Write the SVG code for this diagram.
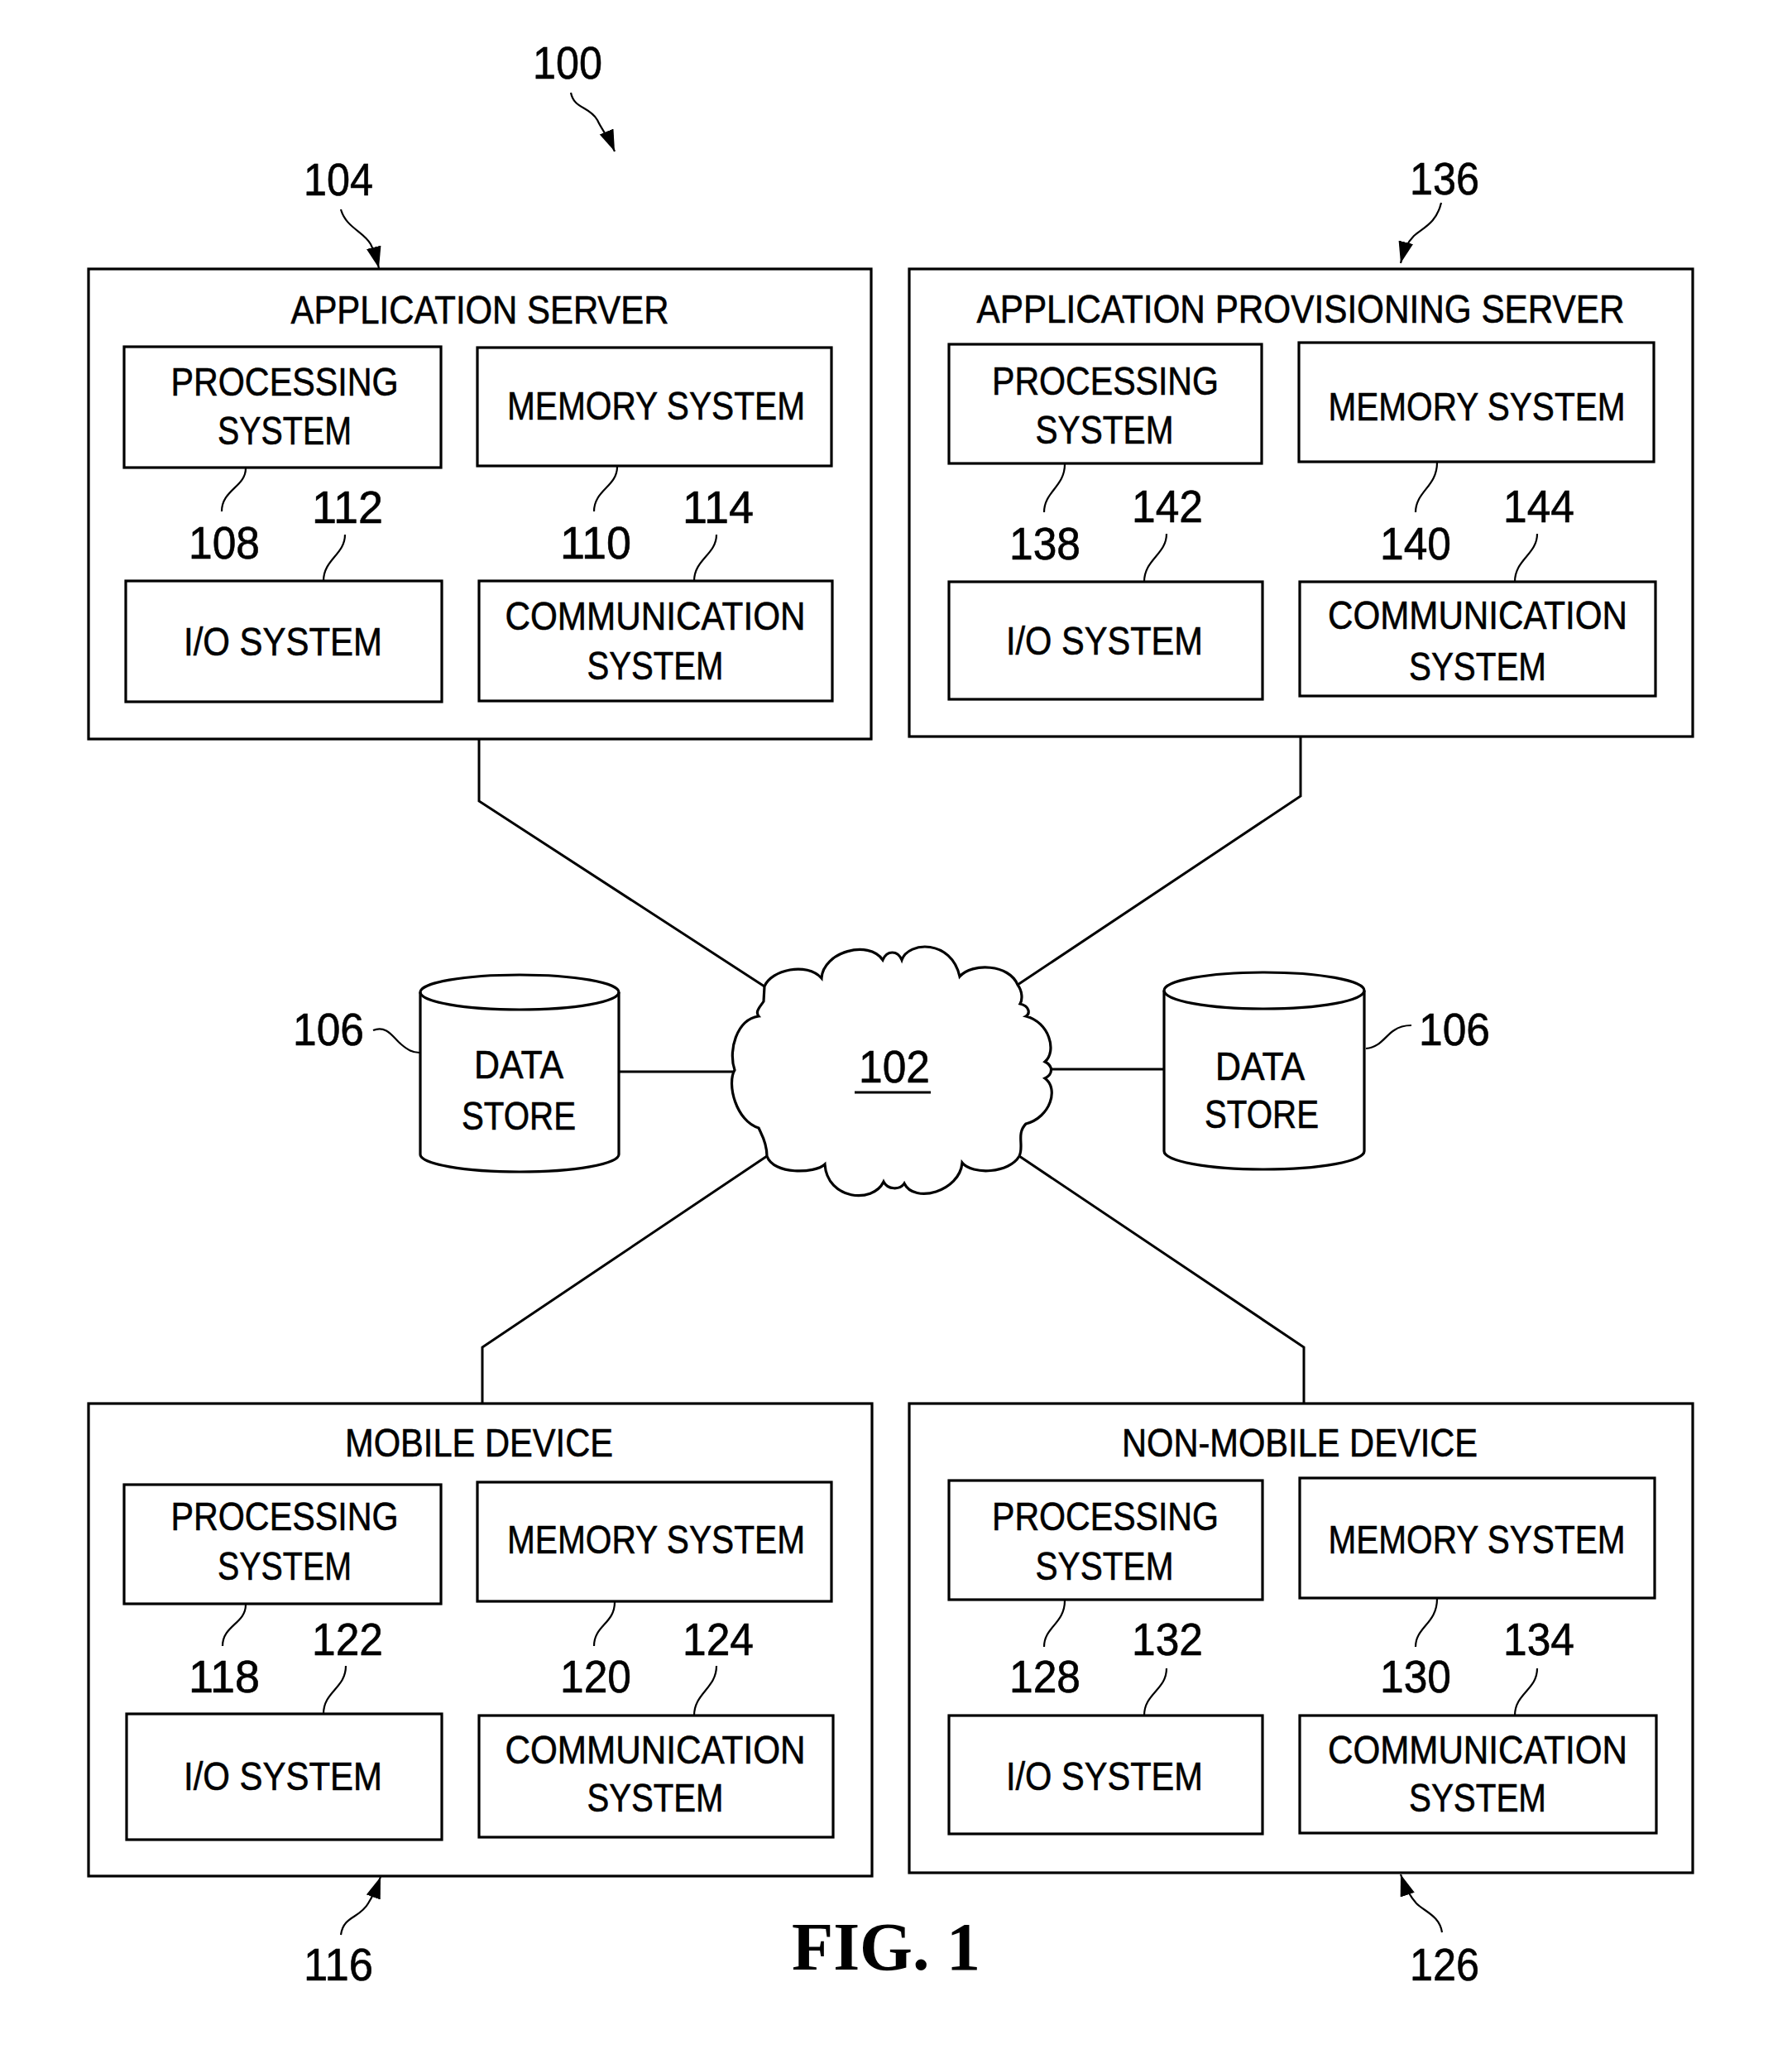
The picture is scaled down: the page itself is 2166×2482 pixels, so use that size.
<svg xmlns="http://www.w3.org/2000/svg" width="2166" height="2482" viewBox="0 0 2166 2482">
<defs>
<style>
.box{fill:none;stroke:#000;stroke-width:3.2}
.ln{fill:none;stroke:#000;stroke-width:3}
.ld{fill:none;stroke:#000;stroke-width:2.2}
.t{font-family:"Liberation Sans",Arial,sans-serif;font-size:48px;fill:#000;stroke:#000;stroke-width:0.6;text-anchor:middle}
.n{font-family:"Liberation Sans",Arial,sans-serif;font-size:56px;fill:#000;stroke:#000;stroke-width:0.6;text-anchor:middle}
.fig{font-family:"Liberation Serif","Times New Roman",serif;font-weight:bold;font-size:83px;fill:#000}
</style>
<marker id="ah" markerUnits="userSpaceOnUse" markerWidth="28" markerHeight="20" refX="26" refY="9" orient="auto" viewBox="0 0 28 20">
<path d="M0,0 L26,9 L0,18 Z" fill="#000"/>
</marker>
</defs>
<rect width="2166" height="2482" fill="#fff"/>

<g id="connectors">
<path class="ln" d="M579,893 L579,968 L924,1192"/>
<path class="ln" d="M1572,890 L1572,962 L1230,1190"/>
<path class="ln" d="M748,1295 L887,1295"/>
<path class="ln" d="M1270,1292 L1407,1292"/>
<path class="ln" d="M927,1397 L583,1628 L583,1696"/>
<path class="ln" d="M1232,1397 L1576,1628 L1576,1696"/>
</g>

<g id="ref-100">
<text class="n" x="686" y="95" textLength="84" lengthAdjust="spacingAndGlyphs">100</text>
<path class="ld" d="M690,112 C694,132 712,128 722,145 C728,158 736,166 743,183" marker-end="url(#ah)"/>
</g>

<g id="node-104">
<text class="n" x="409" y="236" textLength="84" lengthAdjust="spacingAndGlyphs">104</text>
<path class="ld" d="M412,253 C418,275 440,280 448,295 C452,303 455,312 458,324" marker-end="url(#ah)"/>
<rect class="box" x="107" y="325" width="946" height="568"/>
<text class="t" x="580" y="391" textLength="457" lengthAdjust="spacingAndGlyphs">APPLICATION SERVER</text>
<rect class="box" x="150" y="419" width="383" height="146"/>
<text class="t" x="344" y="478" textLength="275" lengthAdjust="spacingAndGlyphs">PROCESSING</text>
<text class="t" x="344" y="537" textLength="162" lengthAdjust="spacingAndGlyphs">SYSTEM</text>
<rect class="box" x="577" y="420" width="428" height="143"/>
<text class="t" x="793" y="507" textLength="360" lengthAdjust="spacingAndGlyphs">MEMORY SYSTEM</text>
<rect class="box" x="152" y="702" width="382" height="146"/>
<text class="t" x="342" y="792" textLength="240" lengthAdjust="spacingAndGlyphs">I/O SYSTEM</text>
<rect class="box" x="579" y="702" width="427" height="145"/>
<text class="t" x="792" y="761" textLength="363" lengthAdjust="spacingAndGlyphs">COMMUNICATION</text>
<text class="t" x="792" y="821" textLength="165" lengthAdjust="spacingAndGlyphs">SYSTEM</text>
<text class="n" x="271" y="675" textLength="86" lengthAdjust="spacingAndGlyphs">108</text>
<text class="n" x="420" y="632" textLength="86" lengthAdjust="spacingAndGlyphs">112</text>
<text class="n" x="720" y="675" textLength="86" lengthAdjust="spacingAndGlyphs">110</text>
<text class="n" x="868" y="632" textLength="86" lengthAdjust="spacingAndGlyphs">114</text>
<path class="ld" d="M297,566 C297,588 268,592 268,618"/>
<path class="ld" d="M417,646 C417,670 391,676 391,702"/>
<path class="ld" d="M746,564 C746,588 718,592 718,618"/>
<path class="ld" d="M866,646 C866,670 839,676 839,702"/>
</g>

<g id="node-136">
<text class="n" x="1746" y="235" textLength="84" lengthAdjust="spacingAndGlyphs">136</text>
<path class="ld" d="M1742,245 C1736,270 1720,275 1709,285 C1701,293 1697,302 1693,318" marker-end="url(#ah)"/>
<rect class="box" x="1099" y="325" width="947" height="565"/>
<text class="t" x="1572" y="390" textLength="783" lengthAdjust="spacingAndGlyphs">APPLICATION PROVISIONING SERVER</text>
<rect class="box" x="1147" y="416" width="378" height="144"/>
<text class="t" x="1336" y="477" textLength="274" lengthAdjust="spacingAndGlyphs">PROCESSING</text>
<text class="t" x="1335" y="536" textLength="167" lengthAdjust="spacingAndGlyphs">SYSTEM</text>
<rect class="box" x="1570" y="414" width="429" height="144"/>
<text class="t" x="1785" y="508" textLength="359" lengthAdjust="spacingAndGlyphs">MEMORY SYSTEM</text>
<rect class="box" x="1147" y="703" width="379" height="142"/>
<text class="t" x="1335" y="791" textLength="238" lengthAdjust="spacingAndGlyphs">I/O SYSTEM</text>
<rect class="box" x="1571" y="703" width="430" height="138"/>
<text class="t" x="1786" y="760" textLength="362" lengthAdjust="spacingAndGlyphs">COMMUNICATION</text>
<text class="t" x="1786" y="822" textLength="166" lengthAdjust="spacingAndGlyphs">SYSTEM</text>
<text class="n" x="1263" y="676" textLength="86" lengthAdjust="spacingAndGlyphs">138</text>
<text class="n" x="1411" y="631" textLength="86" lengthAdjust="spacingAndGlyphs">142</text>
<text class="n" x="1711" y="676" textLength="86" lengthAdjust="spacingAndGlyphs">140</text>
<text class="n" x="1860" y="631" textLength="86" lengthAdjust="spacingAndGlyphs">144</text>
<path class="ld" d="M1287,561 C1287,588 1262,594 1262,619"/>
<path class="ld" d="M1410,645 C1410,670 1383,676 1383,703"/>
<path class="ld" d="M1737,559 C1737,588 1711,594 1711,619"/>
<path class="ld" d="M1858,645 C1858,670 1831,676 1831,703"/>
</g>

<g id="node-102">
<path class="box" d="M924,1192 C932,1172 975,1162 993,1182 C995,1150 1050,1135 1067,1160 C1072,1148 1085,1148 1090,1160 C1098,1137 1150,1135 1160,1180 C1175,1163 1220,1165 1230,1190 C1236,1198 1236,1208 1233,1213 C1245,1216 1245,1225 1240,1228 C1268,1235 1278,1270 1263,1283 C1273,1288 1273,1298 1263,1303 C1280,1315 1270,1350 1240,1358 C1228,1370 1238,1385 1232,1397 C1220,1418 1175,1420 1163,1405 C1160,1440 1105,1455 1093,1430 C1088,1438 1073,1438 1068,1428 C1055,1455 1000,1450 997,1407 C985,1418 935,1420 927,1397 C927,1380 920,1370 917,1363 C890,1355 878,1310 888,1293 C880,1270 890,1232 917,1228 C912,1222 920,1215 923,1210 Z"/>
<text class="n" x="1081" y="1308" font-size="60" textLength="86" lengthAdjust="spacingAndGlyphs">102</text>
<line class="ln" x1="1033" y1="1320" x2="1125" y2="1320"/>
</g>

<g id="node-106-left">
<path class="box" d="M508,1199 L508,1395 A120,21 0 0 0 748,1395 L748,1199"/>
<ellipse class="box" cx="628" cy="1199" rx="120" ry="21"/>
<text class="t" x="627" y="1303" font-size="52" textLength="108" lengthAdjust="spacingAndGlyphs">DATA</text>
<text class="t" x="627" y="1365" font-size="52" textLength="138" lengthAdjust="spacingAndGlyphs">STORE</text>
<text class="n" x="397" y="1263" textLength="86" lengthAdjust="spacingAndGlyphs">106</text>
<path class="ld" d="M451,1245 C468,1238 476,1255 485,1262 C492,1268 498,1272 507,1272"/>
</g>

<g id="node-106-right">
<path class="box" d="M1407,1197 L1407,1391 A121,22 0 0 0 1649,1391 L1649,1197"/>
<ellipse class="box" cx="1528" cy="1197" rx="121" ry="22"/>
<text class="t" x="1523" y="1305" font-size="52" textLength="108" lengthAdjust="spacingAndGlyphs">DATA</text>
<text class="t" x="1525" y="1363" font-size="52" textLength="138" lengthAdjust="spacingAndGlyphs">STORE</text>
<text class="n" x="1758" y="1263" textLength="86" lengthAdjust="spacingAndGlyphs">106</text>
<path class="ld" d="M1651,1267 C1668,1266 1675,1251 1685,1245 C1692,1240 1698,1239 1706,1239"/>
</g>

<g id="node-116">
<rect class="box" x="107" y="1696" width="947" height="571"/>
<text class="t" x="579" y="1760" textLength="324" lengthAdjust="spacingAndGlyphs">MOBILE DEVICE</text>
<rect class="box" x="150" y="1794" width="383" height="144"/>
<text class="t" x="344" y="1849" textLength="275" lengthAdjust="spacingAndGlyphs">PROCESSING</text>
<text class="t" x="344" y="1909" textLength="162" lengthAdjust="spacingAndGlyphs">SYSTEM</text>
<rect class="box" x="577" y="1791" width="428" height="144"/>
<text class="t" x="793" y="1877" textLength="360" lengthAdjust="spacingAndGlyphs">MEMORY SYSTEM</text>
<rect class="box" x="153" y="2071" width="381" height="152"/>
<text class="t" x="342" y="2163" textLength="240" lengthAdjust="spacingAndGlyphs">I/O SYSTEM</text>
<rect class="box" x="579" y="2073" width="428" height="147"/>
<text class="t" x="792" y="2131" textLength="363" lengthAdjust="spacingAndGlyphs">COMMUNICATION</text>
<text class="t" x="792" y="2189" textLength="165" lengthAdjust="spacingAndGlyphs">SYSTEM</text>
<text class="n" x="271" y="2045" textLength="86" lengthAdjust="spacingAndGlyphs">118</text>
<text class="n" x="420" y="2000" textLength="86" lengthAdjust="spacingAndGlyphs">122</text>
<text class="n" x="720" y="2045" textLength="86" lengthAdjust="spacingAndGlyphs">120</text>
<text class="n" x="868" y="2000" textLength="86" lengthAdjust="spacingAndGlyphs">124</text>
<path class="ld" d="M297,1939 C297,1962 269,1964 269,1989"/>
<path class="ld" d="M418,2013 C418,2040 391,2044 391,2071"/>
<path class="ld" d="M743,1936 C743,1962 718,1964 718,1989"/>
<path class="ld" d="M866,2013 C866,2040 839,2046 839,2073"/>
<text class="n" x="409" y="2393" textLength="84" lengthAdjust="spacingAndGlyphs">116</text>
<path class="ld" d="M412,2338 C415,2315 435,2318 445,2300 C450,2292 455,2282 460,2268" marker-end="url(#ah)"/>
</g>

<g id="node-126">
<rect class="box" x="1099" y="1696" width="947" height="567"/>
<text class="t" x="1571" y="1760" textLength="430" lengthAdjust="spacingAndGlyphs">NON-MOBILE DEVICE</text>
<rect class="box" x="1147" y="1789" width="379" height="144"/>
<text class="t" x="1336" y="1849" textLength="274" lengthAdjust="spacingAndGlyphs">PROCESSING</text>
<text class="t" x="1335" y="1909" textLength="167" lengthAdjust="spacingAndGlyphs">SYSTEM</text>
<rect class="box" x="1571" y="1786" width="429" height="145"/>
<text class="t" x="1785" y="1877" textLength="359" lengthAdjust="spacingAndGlyphs">MEMORY SYSTEM</text>
<rect class="box" x="1147" y="2073" width="379" height="143"/>
<text class="t" x="1335" y="2163" textLength="238" lengthAdjust="spacingAndGlyphs">I/O SYSTEM</text>
<rect class="box" x="1571" y="2073" width="431" height="142"/>
<text class="t" x="1786" y="2131" textLength="362" lengthAdjust="spacingAndGlyphs">COMMUNICATION</text>
<text class="t" x="1786" y="2189" textLength="166" lengthAdjust="spacingAndGlyphs">SYSTEM</text>
<text class="n" x="1263" y="2045" textLength="86" lengthAdjust="spacingAndGlyphs">128</text>
<text class="n" x="1411" y="2000" textLength="86" lengthAdjust="spacingAndGlyphs">132</text>
<text class="n" x="1711" y="2045" textLength="86" lengthAdjust="spacingAndGlyphs">130</text>
<text class="n" x="1860" y="2000" textLength="86" lengthAdjust="spacingAndGlyphs">134</text>
<path class="ld" d="M1287,1934 C1287,1962 1262,1966 1262,1990"/>
<path class="ld" d="M1410,2016 C1410,2042 1383,2046 1383,2073"/>
<path class="ld" d="M1737,1932 C1737,1962 1711,1966 1711,1990"/>
<path class="ld" d="M1858,2016 C1858,2042 1831,2046 1831,2073"/>
<text class="n" x="1746" y="2393" textLength="84" lengthAdjust="spacingAndGlyphs">126</text>
<path class="ld" d="M1743,2335 C1740,2315 1722,2310 1712,2300 C1703,2290 1698,2280 1693,2265" marker-end="url(#ah)"/>
</g>

<text class="fig" x="957" y="2380" textLength="228" lengthAdjust="spacingAndGlyphs">FIG. 1</text>
</svg>
